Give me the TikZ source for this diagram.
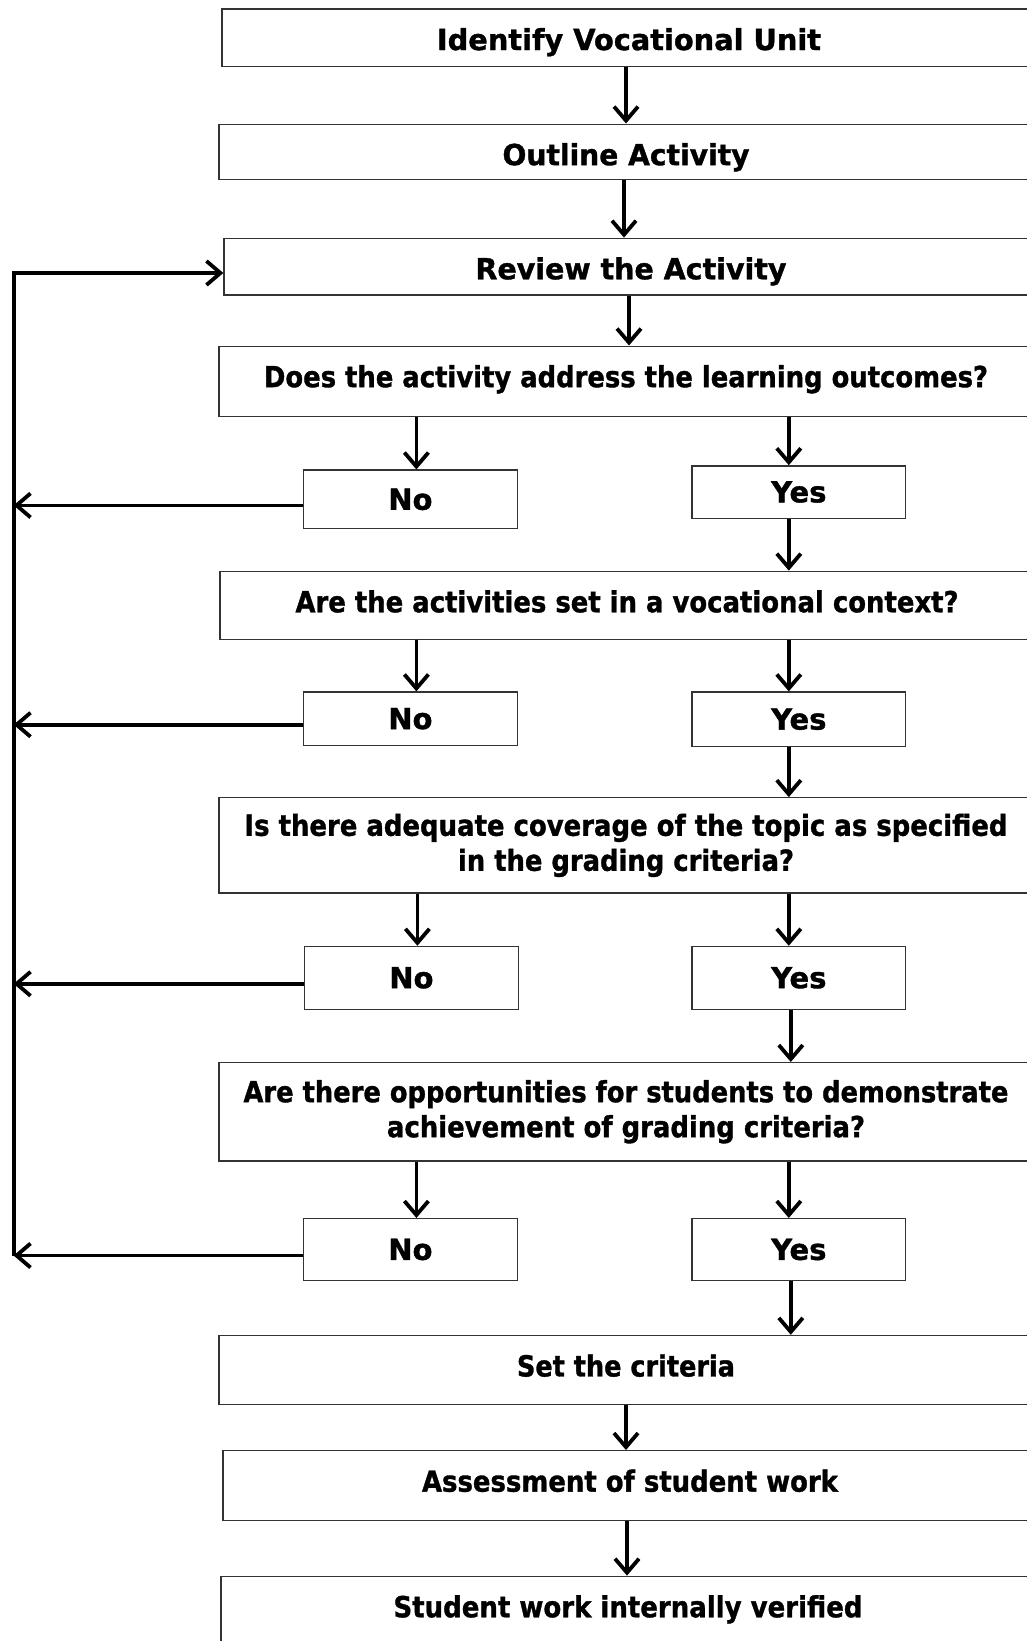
\documentclass[tikz,border=0pt]{standalone}
\usepackage{fontspec}
\setmainfont{DejaVu Sans}
\usetikzlibrary{arrows.meta}
\newcommand{\squeeze}[2]{\resizebox{#1pt}{\height}{#2}}

\begin{document}
\begin{tikzpicture}
[x=1pt,y=-1pt,
 box/.style={draw=black!80,line width=1.3pt,inner sep=0pt,align=center,
   font=\bfseries\fontsize{29}{35}\selectfont\addfontfeature{FakeBold=1.2}},
 wide/.style={box,minimum width=814pt,anchor=north,text height=41pt,text depth=#1},
 twoline/.style={box,minimum width=814pt,minimum height=#1},
 small/.style={box,minimum width=213.6pt,minimum height=#1},
 arr/.style={-{Straight Barb[length=14pt,width=24pt]},line width=3.8pt},
 back/.style={arr,line join=miter}]
\useasboundingbox (0,0) rectangle (1026,1641);
% main column
\node[wide=16.6pt] (unit) at (629,8.4) {\squeeze{384}{Identify Vocational Unit}};
\node[wide=14.5pt] (outline) at (626,123.5) {\squeeze{247}{Outline Activity}};
\node[wide=15.6pt] (review) at (631,237.6) {\squeeze{311}{Review the Activity}};
\node[wide=29.1pt] (q1) at (626,345.5)
  {\squeeze{724}{Does the activity address the learning outcomes?}};
\node[wide=27pt] (q2) at (627,570.6)
  {\squeeze{663}{Are the activities set in a vocational context?}};
\node[twoline=95.3pt] (q3) at (626,845.4)
  {\squeeze{763}{Is there adequate coverage of the topic as specified}\\
   \squeeze{336}{in the grading criteria?}};
\node[twoline=98.4pt] (q4) at (626,1111.8)
  {\squeeze{765}{Are there opportunities for students to demonstrate}\\
   \squeeze{478}{achievement of grading criteria?}};
\node[wide=28.1pt] (criteria) at (626,1334.8) {\squeeze{218}{Set the criteria}};
\node[wide=29.1pt] (assess) at (630,1450) {\squeeze{416}{Assessment of student work}};
\node[wide=40pt] (verify) at (628,1575.6) {\squeeze{469}{Student work internally verified}};
% answers
\node[small=58.6pt] (no1) at (410.4,499.4) {No};
\node[small=52.3pt] (yes1) at (798.8,492) {Yes};
\node[small=53.4pt] (no2) at (410.4,718.7) {No};
\node[small=54.4pt] (yes2) at (798.8,719.2) {Yes};
\node[small=62.8pt] (no3) at (411.4,977.8) {No};
\node[small=62.8pt] (yes3) at (798.8,977.8) {Yes};
\node[small=61.8pt] (no4) at (410.4,1249.5) {No};
\node[small=61.8pt] (yes4) at (798.8,1249.5) {Yes};
\coordinate (spine) at (13.6,273);

\draw[arr] (unit.south -| outline) -- (outline);
\draw[arr] ([xshift=-2pt]outline.south) -- ([xshift=-2pt]outline.south |- review.north);
\draw[arr] ([xshift=-2pt]review.south) -- ([xshift=-2pt]review.south |- q1.north);
\foreach \q/\a/\b in {q1/no1/yes1,q2/no2/yes2,q3/no3/yes3,q4/no4/yes4}{
  \draw[arr] ([xshift=6pt]\q.south -| \a) -- ([xshift=6pt]\a.north);
  \draw[arr] ([xshift=-10pt]\q.south -| \b) -- ([xshift=-10pt]\b.north);
}
\draw[arr] ([xshift=-10pt]yes1.south) -- ([xshift=-10pt]yes1.south |- q2.north);
\draw[arr] ([xshift=-10pt]yes2.south) -- ([xshift=-10pt]yes2.south |- q3.north);
\draw[arr] ([xshift=-8pt]yes3.south) -- ([xshift=-8pt]yes3.south |- q4.north);
\draw[arr] ([xshift=-8pt]yes4.south) -- ([xshift=-8pt]yes4.south |- criteria.north);
\draw[arr] (criteria.south) -- (criteria.south |- assess.north);
\draw[arr] ([xshift=-3pt]assess.south) -- ([xshift=-3pt]assess.south |- verify.north);

% back to review
\draw[back] ([yshift=-6pt]no4.west -| spine) -- (spine) -- (spine -| review.west);
\foreach \n in {no1,no2,no3,no4}
  \draw[arr] ([yshift=-6pt]\n.west) -- ([yshift=-6pt]\n.west -| spine);
\end{tikzpicture}
\end{document}
